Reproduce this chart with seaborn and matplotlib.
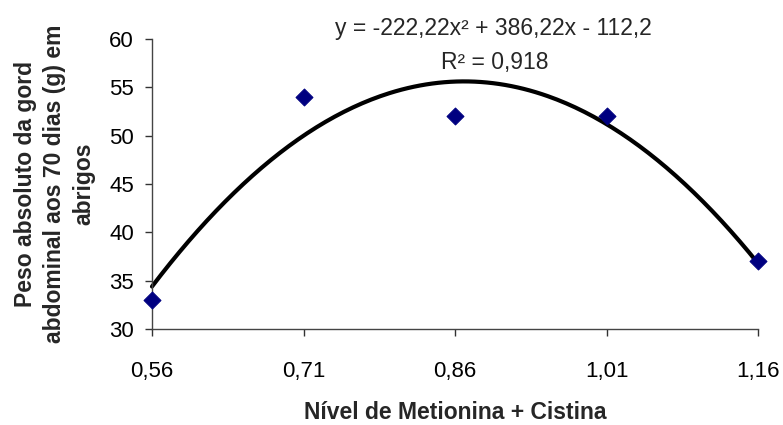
import numpy as np
import pandas as pd
import matplotlib
matplotlib.use("Agg")
import matplotlib.pyplot as plt
import seaborn as sns

# Observed values
niveis = [0.56, 0.71, 0.86, 1.01, 1.16]
peso = [33, 54, 52, 52, 37]
x_ticks = [0.56, 0.71, 0.86, 1.01, 1.16]
x_tick_labels = ["0,56", "0,71", "0,86", "1,01", "1,16"]
y_ticks = [30, 35, 40, 45, 50, 55, 60]

# Quadratic fit coefficients (a, b, c) as reported in the equation
coef = [-222.22, 386.22, -112.2]
r2 = 0.918

sns.set_theme(style="white")
plt.rcParams["font.family"] = ["Liberation Sans", "DejaVu Sans"]

fig = plt.figure(figsize=(7.83, 4.25), dpi=100)
ax = fig.add_axes([152 / 783, 1 - 329 / 425, 606 / 783, 290 / 425])

df = pd.DataFrame({"nivel": niveis, "peso": peso})
xs = np.linspace(min(niveis), max(niveis), 200)
fit = pd.DataFrame({"nivel": xs, "peso": np.polyval(coef, xs)})

sns.lineplot(data=fit, x="nivel", y="peso", ax=ax, color="black", linewidth=3.0,
             clip_on=False, zorder=2)
sns.scatterplot(data=df, x="nivel", y="peso", ax=ax, marker="D", s=75,
                color="#000080", edgecolor="#000080", clip_on=False, zorder=3)

ax.set_xlim(0.56, 1.16)
ax.set_ylim(30, 60)
ax.set_xticks(x_ticks)
ax.set_xticklabels(x_tick_labels)
ax.set_yticks(y_ticks)
ax.tick_params(axis="both", direction="out", length=5, width=1, color="#333333",
               labelsize=16, labelcolor="black", bottom=True, left=True)
ax.tick_params(axis="x", pad=18)
ax.tick_params(axis="y", pad=8)

for side in ["top", "right"]:
    ax.spines[side].set_visible(False)
for side in ["left", "bottom"]:
    ax.spines[side].set_color("#444444")
    ax.spines[side].set_linewidth(1.0)

ax.set_xlabel("Nível de Metionina + Cistina", fontsize=16.5, fontweight="bold",
              labelpad=14)
ax.set_ylabel("Peso absoluto da gord\nabdominal aos 70 dias (g) em\nabrigos",
              fontsize=16.5, fontweight="bold", labelpad=10, linespacing=1.35)

fig.text(493 / 783, 1 - 29 / 425, "y = -222,22x² + 386,22x - 112,2",
         ha="center", va="center", fontsize=16.5)
fig.text(495 / 783, 1 - 62 / 425, "R² = " + f"{r2:.3f}".replace(".", ","),
         ha="center", va="center", fontsize=16.5)

fig.savefig("out.png", dpi=100)
